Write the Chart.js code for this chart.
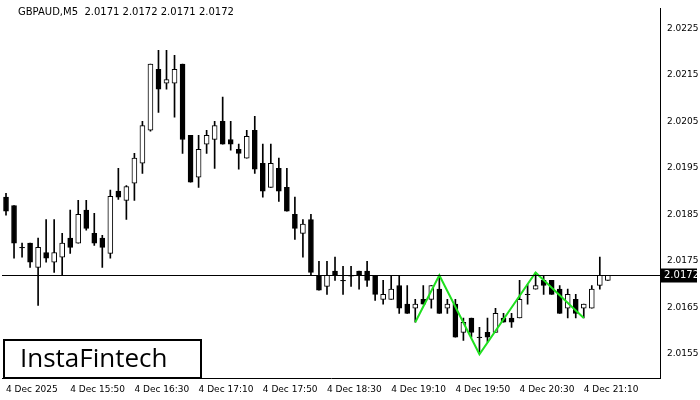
<!DOCTYPE html>
<html>
<head>
<meta charset="utf-8">
<script src="https://cdn.jsdelivr.net/npm/chart.js@4/dist/chart.umd.min.js"></script>
<style>
  html,body{margin:0;padding:0;background:#fff;}
  #wrap{width:700px;height:400px;}
</style>
</head>
<body>
<div id="wrap"><canvas id="candles"></canvas></div>
<script>
// OHLC values (GBPAUD M5)
const opens  = [2.01887,2.01869,2.01779,2.01788,2.01736,2.01768,2.01747,2.01758,2.01799,2.01788,2.01859,2.01809,2.01799,2.01766,2.01900,2.01880,2.01917,2.01960,2.02031,2.02162,2.02132,2.02132,2.02173,2.02020,2.01930,2.02001,2.02011,2.02050,2.02011,2.01990,2.01971,2.02031,2.01960,2.01908,2.01949,2.01908,2.01850,2.01809,2.01839,2.01719,2.01695,2.01728,2.01708,2.01719,2.01728,2.01728,2.01719,2.01667,2.01667,2.01697,2.01657,2.01648,2.01667,2.01667,2.01689,2.01648,2.01657,2.01596,2.01627,2.01586,2.01596,2.01596,2.01627,2.01627,2.01627,2.01678,2.01689,2.01708,2.01708,2.01689,2.01648,2.01667,2.01648,2.01648,2.01697,2.01708];
const highs  = [2.01895,2.01869,2.01788,2.01788,2.01799,2.01839,2.01839,2.01809,2.01859,2.01880,2.01880,2.01852,2.01805,2.01902,2.01949,2.01912,2.01981,2.02050,2.02173,2.02203,2.02203,2.02192,2.02173,2.02020,2.02020,2.02031,2.02050,2.02102,2.02050,2.02001,2.02031,2.02061,2.02001,2.02001,2.01971,2.01949,2.01887,2.01839,2.01850,2.01749,2.01749,2.01758,2.01738,2.01738,2.01728,2.01749,2.01719,2.01708,2.01719,2.01719,2.01697,2.01667,2.01697,2.01697,2.01719,2.01667,2.01667,2.01627,2.01627,2.01607,2.01627,2.01648,2.01637,2.01637,2.01708,2.01699,2.01725,2.01717,2.01708,2.01697,2.01689,2.01678,2.01657,2.01697,2.01758,2.01719];
const lows   = [2.01848,2.01756,2.01758,2.01736,2.01654,2.01747,2.01725,2.01719,2.01766,2.01788,2.01816,2.01783,2.01736,2.01756,2.01882,2.01839,2.01880,2.01938,2.02029,2.02069,2.02119,2.02059,2.01981,2.01919,2.01908,2.01981,2.01949,2.02001,2.01988,2.01947,2.01971,2.01938,2.01887,2.01908,2.01878,2.01857,2.01796,2.01758,2.01719,2.01687,2.01678,2.01708,2.01678,2.01695,2.01689,2.01695,2.01665,2.01657,2.01667,2.01637,2.01637,2.01618,2.01657,2.01648,2.01637,2.01637,2.01586,2.01579,2.01586,2.01551,2.01575,2.01596,2.01618,2.01607,2.01627,2.01657,2.01689,2.01678,2.01678,2.01637,2.01627,2.01627,2.01627,2.01648,2.01689,2.01708];
const closes = [2.01857,2.01788,2.01778,2.01747,2.01779,2.01756,2.01768,2.01788,2.01779,2.01850,2.01820,2.01788,2.01779,2.01889,2.01887,2.01910,2.01971,2.02041,2.02173,2.02119,2.02140,2.02162,2.02011,2.01919,2.01990,2.02020,2.02041,2.02001,2.02001,2.01981,2.02018,2.01947,2.01900,2.01960,2.01900,2.01857,2.01820,2.01829,2.01725,2.01687,2.01719,2.01719,2.01707,2.01717,2.01719,2.01708,2.01678,2.01678,2.01689,2.01648,2.01637,2.01657,2.01657,2.01697,2.01637,2.01657,2.01586,2.01618,2.01596,2.01585,2.01586,2.01637,2.01618,2.01618,2.01667,2.01677,2.01697,2.01697,2.01678,2.01637,2.01678,2.01637,2.01657,2.01689,2.01719,2.01719];
// double bottom pattern vertices (bar index -> price)
const patternIdx   = [51, 54, 59, 66, 72];
const patternPrice = [2.01618, 2.01719, 2.01549, 2.01725, 2.01627];
const yTicks = [2.0155,2.0165,2.0175,2.0185,2.0195,2.0205,2.0215,2.0225];
const timeTicks = {0:'4 Dec 2025',8:'4 Dec 15:50',16:'4 Dec 16:30',24:'4 Dec 17:10',32:'4 Dec 17:50',40:'4 Dec 18:30',48:'4 Dec 19:10',56:'4 Dec 19:50',64:'4 Dec 20:30',72:'4 Dec 21:10'};
const lastPrice = 2.0172;
const emptySlots = 6; // blank space right of the last bar

const categories = [];
for (let i = 0; i < opens.length + emptySlots; i++) {
  const m = 15 * 60 + 10 + i * 5;
  categories.push(String(Math.floor(m / 60)).padStart(2, '0') + ':' + String(m % 60).padStart(2, '0'));
}
const wicks = lows.map((l, i) => [l, highs[i]]);
const bodies = opens.map((o, i) => [o, closes[i]]);
const bodyFill = opens.map((o, i) => closes[i] >= o ? '#ffffff' : '#000000');
const pattern = categories.map(() => null);
patternIdx.forEach((ix, k) => { pattern[ix] = patternPrice[k]; });

const overlay = {
  id: 'overlay',
  afterDraw(chart) {
    const {ctx, chartArea: a, scales: {y}} = chart;
    ctx.save();
    // last price line
    const py = Math.round(y.getPixelForValue(lastPrice)) + 0.5;
    ctx.strokeStyle = '#000'; ctx.lineWidth = 1;
    ctx.beginPath(); ctx.moveTo(a.left, py); ctx.lineTo(a.right, py); ctx.stroke();
    ctx.fillStyle = '#000';
    ctx.fillRect(a.right + 1, py - 7, 36, 14);
    ctx.fillStyle = '#fff'; ctx.font = '10px "DejaVu Sans"';
    ctx.textBaseline = 'middle'; ctx.textAlign = 'left';
    ctx.fillText(lastPrice.toFixed(4), a.right + 4, py);
    // title
    ctx.fillStyle = '#000';
    ctx.fillText('GBPAUD,M5  2.0171 2.0172 2.0171 2.0172', a.left + 16, a.top + 4);
    // logo
    ctx.fillStyle = '#fff';
    ctx.fillRect(4, 340, 197, 38);
    ctx.strokeStyle = '#000'; ctx.lineWidth = 2;
    ctx.strokeRect(4, 340, 197, 38);
    ctx.fillStyle = '#000'; ctx.font = '26px "Open Sans"';
    ctx.fillText('InstaFintech', 20, 360);
    ctx.restore();
  }
};

new Chart(document.getElementById('candles'), {
  data: {
    labels: categories,
    datasets: [
      { type: 'line', data: pattern, spanGaps: true, borderColor: '#1fe01f', borderWidth: 2,
        pointRadius: 0, order: 0 },
      { type: 'bar', data: wicks, backgroundColor: '#000', barThickness: 1, grouped: false, order: 2 },
      { type: 'bar', data: bodies, backgroundColor: bodyFill, borderColor: '#000', borderWidth: 1,
        borderSkipped: false, barThickness: 5, grouped: false, order: 1 }
    ]
  },
  plugins: [overlay],
  options: {
    responsive: true,
    maintainAspectRatio: false,
    animation: false,
    layout: { padding: { top: 7, left: 2, right: 2 } },
    plugins: { legend: { display: false }, tooltip: { enabled: false } },
    scales: {
      x: {
        offset: true,
        grid: { display: false, drawTicks: true, tickLength: 4, color: '#000' },
        border: { color: '#000' },
        afterFit: s => { s.height = 22; },
        ticks: {
          autoSkip: false, maxRotation: 0, align: 'start', color: '#000',
          font: { size: 9, family: 'DejaVu Sans' }, padding: 2,
          callback: (v, i) => timeTicks[i] || ''
        }
      },
      y: {
        position: 'right',
        min: 2.01498, max: 2.02293,
        grid: { display: false, tickLength: 4 },
        border: { color: '#000' },
        afterFit: s => { s.width = 38; },
        afterBuildTicks: s => { s.ticks = yTicks.map(v => ({ value: v })); },
        ticks: { color: '#000', font: { size: 9, family: 'DejaVu Sans' }, padding: 3,
          callback: v => Number(v).toFixed(4) }
      }
    }
  }
});
</script>
</body>
</html>
